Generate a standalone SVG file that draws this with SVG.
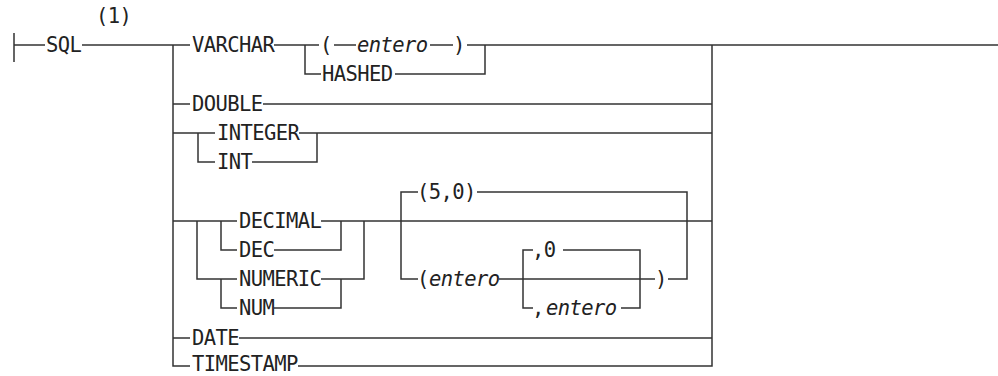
<svg xmlns="http://www.w3.org/2000/svg" width="998" height="376" viewBox="0 0 998 376">
<style>
.t{font-family:"DejaVu Sans Mono","Liberation Mono",monospace;font-size:20.5px;letter-spacing:-0.6px;fill:#222}
.i{font-style:italic}
.c{stroke:#333;stroke-width:1.5;fill:none}
</style>
<rect width="998" height="376" fill="#fff"/>
<g id="connectors" class="c">
<path d="M14 33V62M14 45H45"/>
<path d="M82 45H190"/>
<path d="M173 45V366H190"/>
<path d="M274 45H319M305 45V74H321"/>
<path d="M334 45H356M430 45H453M467 45H998"/>
<path d="M395 74H485V45"/>
<path d="M173 104H190M263 104H712"/>
<path d="M173 133H215M198 133V162H215M299 133H712M252 162H317V133"/>
<path d="M173 221H237M197 221V279H237M221 221V250H237M221 279V308H237"/>
<path d="M321 221H712M274 250H341V221M321 279H364V221M274 308H341V279"/>
<path d="M401 221V192H418M477 192H687V279H668M401 221V279H418"/>
<path d="M499 279H655M523 279V250H533M523 279V308H533M563 250H640V308H621"/>
<path d="M173 338H190M239 338H712"/>
<path d="M298 366H712V45"/>
</g>
<g id="note"><text class="t" x="96" y="23">(1)</text></g>
<g id="sql"><text class="t" x="46" y="52">SQL</text></g>
<g id="varchar"><text class="t" x="192" y="52">VARCHAR</text></g>
<g id="varchar-len"><text class="t" x="320" y="52">(</text><text class="t i" x="357" y="52">entero</text><text class="t" x="453" y="52">)</text></g>
<g id="hashed"><text class="t" x="322" y="81">HASHED</text></g>
<g id="double"><text class="t" x="192" y="111">DOUBLE</text></g>
<g id="integer"><text class="t" x="217" y="140">INTEGER</text></g>
<g id="int"><text class="t" x="217" y="169">INT</text></g>
<g id="decimal"><text class="t" x="239" y="228">DECIMAL</text></g>
<g id="dec"><text class="t" x="239" y="257">DEC</text></g>
<g id="numeric"><text class="t" x="239" y="286">NUMERIC</text></g>
<g id="num"><text class="t" x="239" y="315">NUM</text></g>
<g id="default-prec"><text class="t" x="417" y="199">(5,0)</text></g>
<g id="prec"><text class="t" x="417" y="286">(</text><text class="t i" x="429" y="286">entero</text></g>
<g id="scale0"><text class="t" x="532" y="257">,0</text></g>
<g id="scale"><text class="t" x="532" y="315">,</text><text class="t i" x="546" y="315">entero</text></g>
<g id="close"><text class="t" x="655" y="286">)</text></g>
<g id="date"><text class="t" x="192" y="345">DATE</text></g>
<g id="timestamp"><text class="t" x="192" y="371">TIMESTAMP</text></g>
</svg>
